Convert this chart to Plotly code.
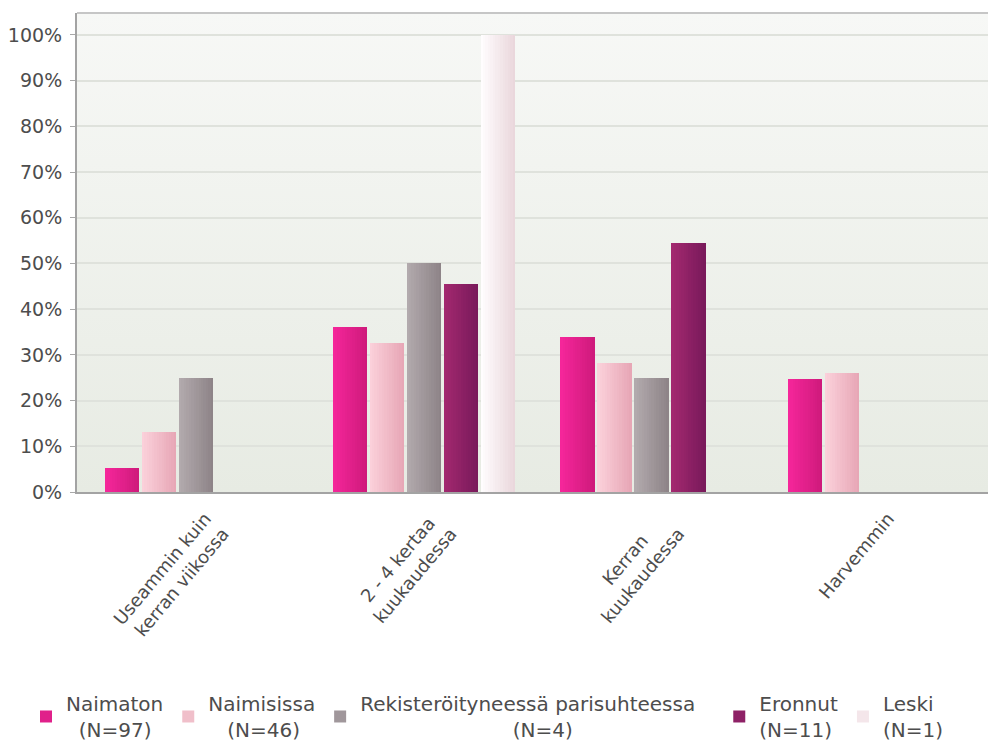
import base64
import plotly.graph_objects as go

# --- data -------------------------------------------------------------
categories = [
    "Useammin kuin<br>kerran viikossa",
    "2 - 4 kertaa\u00a0<br>kuukaudessa",
    "Kerran\u00a0\u00a0\u00a0\u00a0\u00a0<br>kuukaudessa",
    "Harvemmin",
]
series_names = ["Naimaton", "Naimisissa", "Rekisteröityneessä parisuhteessa", "Eronnut", "Leski"]
series_n = [97, 46, 4, 11, 1]

naimaton = [5.15, 36.08, 34.02, 24.74]
naimisissa = [13.04, 32.61, 28.26, 26.09]
rekisteroity = [25.0, 50.0, 25.0, 0.0]
eronnut = [0.0, 45.45, 54.55, 0.0]
leski = [0.0, 100.0, 0.0, 0.0]

y_tick_values = [0, 10, 20, 30, 40, 50, 60, 70, 80, 90, 100]

series_values = [naimaton, naimisissa, rekisteroity, eronnut, leski]

# --- styling ----------------------------------------------------------
# (left edge colour, right edge colour, legend swatch colour)
palette = [
    ("#f5269a", "#cf1a7c", "#e0208a"),
    ("#fbd0da", "#e7a7b6", "#f0bfca"),
    ("#b2aaad", "#8e8488", "#a0979b"),
    ("#a2286f", "#7a1a5b", "#8e2166"),
    ("#fffdfe", "#ead7dc", "#f4e6ea"),
]
# spaces before the "(N=..)" line to centre it, and after the name to widen the entry
legend_pad = [2, 3, 24, 0, 0]
legend_tail = [0, 0, 3, 0, 0]

FONT = "DejaVu Sans"
TEXT = "#4d4d4d"

slot = 37 / 227.7        # width of one series slot inside a category
bar_w = 34.5 / 227.7     # drawn bar width
n_slices = 14            # slices per bar for the horizontal shading


def hex_to_rgb(h):
    h = h.lstrip("#")
    return tuple(int(h[i:i + 2], 16) for i in (0, 2, 4))


def mix(c1, c2, t):
    a, b = hex_to_rgb(c1), hex_to_rgb(c2)
    return "rgb({},{},{})".format(*[round(a[i] + (b[i] - a[i]) * t) for i in range(3)])


x_pos = list(range(len(categories)))
fig = go.Figure()

n_series = len(series_names)
for s, (name, n, vals) in enumerate(zip(series_names, series_n, series_values)):
    left_c, right_c, swatch = palette[s]
    centre = (s - (n_series - 1) / 2) * slot
    left = centre - bar_w / 2
    step = bar_w / n_slices
    label = (name + "\u00a0" * legend_tail[s] + "<br>"
             + "\u00a0" * legend_pad[s] + f"(N={n})")
    for k in range(n_slices):
        off = left + k * step
        w = min(step * 1.6, left + bar_w - off)
        t = k / (n_slices - 1)
        fig.add_trace(go.Bar(
            x=x_pos,
            y=vals,
            offset=off,
            width=w,
            marker=dict(color=mix(left_c, right_c, t), line=dict(width=0)),
            name=label,
            legendgroup=name,
            showlegend=False,
            hoverinfo="skip",
        ))
    # legend entry carrying the series swatch colour
    fig.add_trace(go.Bar(
        x=x_pos,
        y=[0] * len(x_pos),
        offset=centre - bar_w / 2,
        width=bar_w,
        marker=dict(color=swatch, line=dict(width=0)),
        name=label,
        legendgroup=name,
        showlegend=True,
        hovertemplate="%{y:.1f}%<extra>" + name + "</extra>",
    ))

# soft vertical gradient behind the plotting area
svg = (
    '<svg xmlns="http://www.w3.org/2000/svg" width="10" height="100" '
    'viewBox="0 0 10 100" preserveAspectRatio="none">'
    '<defs><linearGradient id="g" x1="0" y1="0" x2="0" y2="1">'
    '<stop offset="0" stop-color="#f7f8f6"/>'
    '<stop offset="1" stop-color="#e7ebe3"/>'
    '</linearGradient></defs>'
    '<rect width="10" height="100" fill="url(#g)"/></svg>'
)
bg_src = "data:image/svg+xml;base64," + base64.b64encode(svg.encode()).decode()

fig.update_layout(
    width=988,
    height=745,
    margin=dict(l=77, r=0, t=13, b=253, autoexpand=False),
    paper_bgcolor="white",
    plot_bgcolor="rgba(0,0,0,0)",
    barmode="overlay",
    font=dict(family=FONT, size=19, color=TEXT),
    images=[dict(
        source=bg_src, xref="paper", yref="paper", x=0, y=1,
        sizex=1, sizey=1, xanchor="left", yanchor="top",
        sizing="stretch", layer="below",
    )],
    shapes=[dict(
        type="line", xref="paper", yref="paper", x0=0, x1=1, y0=1, y1=1,
        line=dict(color="#c6c6c6", width=2), layer="above",
    )],
    legend=dict(
        orientation="h",
        xref="paper", yref="paper",
        x=-0.056, xanchor="left",
        y=-0.4008, yanchor="top",
        font=dict(family=FONT, size=20, color=TEXT),
        bgcolor="rgba(0,0,0,0)",
        traceorder="normal",
        itemclick=False,
        itemdoubleclick=False,
    ),
    bargap=0,
)

fig.update_xaxes(
    range=[-0.523, 3.478],
    tickmode="array",
    tickvals=x_pos,
    ticktext=categories,
    tickangle=-50,
    ticks="",
    ticklabelstandoff=7,
    ticklabelshift=9,
    showgrid=False,
    showline=True,
    linecolor="#a3a3a3",
    linewidth=2,
    zeroline=False,
    tickfont=dict(family=FONT, size=18, color=TEXT),
)
fig.update_yaxes(
    range=[0, 104.8],
    tickmode="array",
    tickvals=y_tick_values,
    ticktext=[f"{v}%" for v in y_tick_values],
    ticks="outside",
    ticklen=5,
    tickcolor="#a8a8a8",
    tickwidth=1,
    ticklabelstandoff=4,
    showgrid=True,
    gridcolor="#dfe2dc",
    gridwidth=1.5,
    showline=True,
    linecolor="#a3a3a3",
    linewidth=2,
    zeroline=False,
    tickfont=dict(family=FONT, size=19, color=TEXT),
)

fig.write_html("out.html")
